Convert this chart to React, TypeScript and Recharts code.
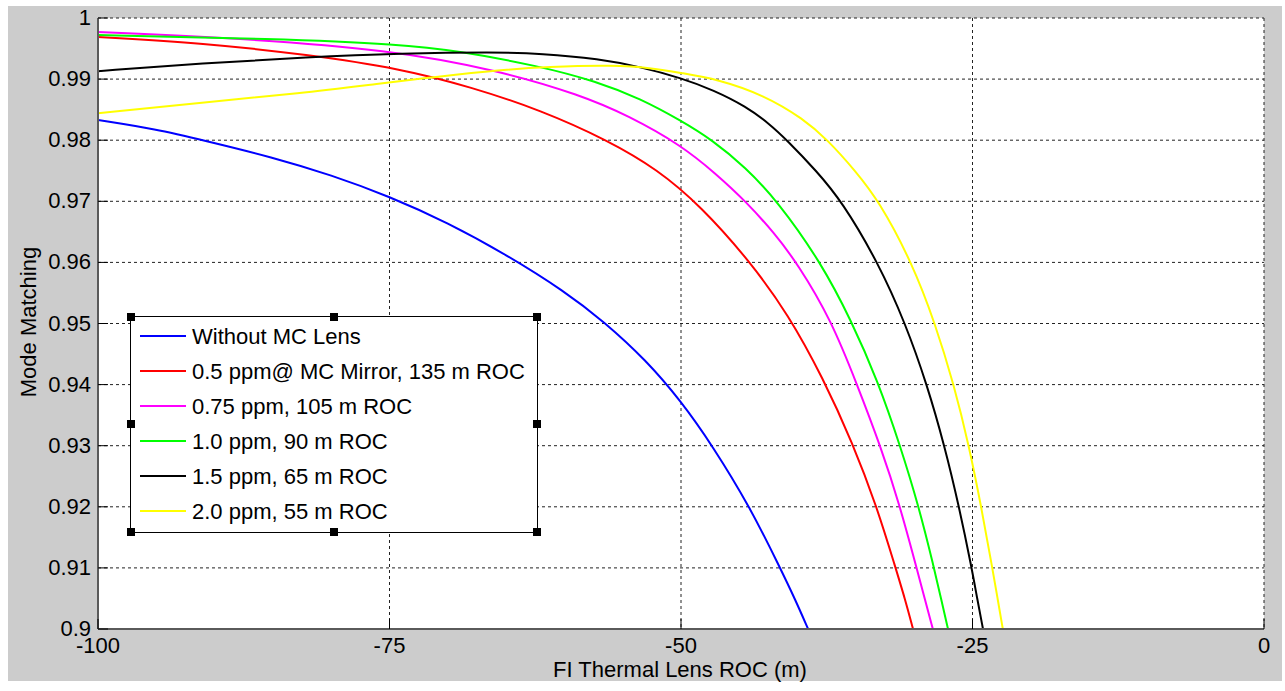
import { LineChart, Line, XAxis, YAxis, CartesianGrid } from 'recharts'

const xTicks = [-100, -75, -50, -25, 0]
const yTicks = [0.9, 0.91, 0.92, 0.93, 0.94, 0.95, 0.96, 0.97, 0.98, 0.99, 1]

const seriesNames = [
  'Without MC Lens',
  '0.5 ppm@ MC Mirror, 135 m ROC',
  '0.75 ppm, 105 m ROC',
  '1.0 ppm, 90 m ROC',
  '1.5 ppm, 65 m ROC',
  '2.0 ppm, 55 m ROC',
]
const seriesColors = ['#0000ff', '#ff0000', '#ff00ff', '#00ff00', '#000000', '#ffff00']

// [ROC (m), mode matching]
const withoutLens = [
  [-100, 0.9833], [-95, 0.9818], [-91, 0.98], [-85, 0.9772], [-80, 0.9743], [-75, 0.9708],
  [-70, 0.9665], [-65, 0.9613], [-60, 0.9553], [-56.6, 0.9503], [-53, 0.944], [-50, 0.9373],
  [-47.3, 0.93], [-44.1, 0.92], [-41.5, 0.91], [-40.2, 0.9048], [-39.1, 0.9],
]
const ppm05 = [
  [-100, 0.9969], [-91, 0.9959], [-82, 0.994], [-74, 0.9917], [-68, 0.9887], [-62, 0.9849],
  [-56.3, 0.98], [-52, 0.9752], [-48.3, 0.9692], [-44.1, 0.9602], [-40.8, 0.9515], [-37.8, 0.941],
  [-35.3, 0.9305], [-33.2, 0.92], [-31.6, 0.91], [-30.8, 0.905], [-30.1, 0.9],
]
const ppm075 = [
  [-100, 0.9977], [-88, 0.9967], [-75, 0.9948], [-65.8, 0.9915], [-58.6, 0.9874], [-54.5, 0.984],
  [-50, 0.9792], [-47, 0.9745], [-44.4, 0.9699], [-42, 0.9648], [-40, 0.9598], [-37.1, 0.9505],
  [-34.9, 0.94], [-32.9, 0.93], [-31.2, 0.92], [-29.8, 0.91], [-29.1, 0.905], [-28.4, 0.9],
]
const ppm10 = [
  [-100, 0.9972], [-85, 0.9966], [-74, 0.9957], [-69.1, 0.9946], [-62.3, 0.9922], [-57.2, 0.9896],
  [-53.5, 0.9868], [-50, 0.9832], [-47.3, 0.98], [-44.5, 0.9756], [-41.7, 0.97], [-38, 0.96],
  [-35.4, 0.9505], [-33.1, 0.9405], [-31.2, 0.93], [-29.6, 0.92], [-28.3, 0.91], [-27.7, 0.905],
  [-27.1, 0.9],
]
const ppm15 = [
  [-100, 0.9913], [-91, 0.9926], [-82, 0.9936], [-74, 0.9942], [-66, 0.9944], [-62, 0.9942],
  [-57, 0.9933], [-53.5, 0.992], [-50, 0.9902], [-47.2, 0.9882], [-44.4, 0.9855], [-42.5, 0.9828],
  [-40.9, 0.98], [-38.4, 0.975], [-36.2, 0.97], [-33.1, 0.96], [-30.75, 0.95], [-28.9, 0.94],
  [-27.4, 0.93], [-26.15, 0.92], [-25.07, 0.91], [-24.6, 0.905], [-24.1, 0.9],
]
const ppm20 = [
  [-100, 0.9844], [-91.3, 0.9861], [-82.6, 0.9877], [-75.8, 0.9893], [-70.9, 0.9904], [-65.5, 0.9915],
  [-61.5, 0.992], [-55.8, 0.9923], [-52.4, 0.9918], [-50, 0.991], [-46.9, 0.99], [-42.9, 0.9874],
  [-39.5, 0.9835], [-37.4, 0.98], [-35.1, 0.9751], [-33, 0.97], [-30.2, 0.96], [-28.2, 0.95],
  [-26.6, 0.94], [-25.3, 0.93], [-24.25, 0.92], [-23.3, 0.91], [-22.85, 0.905], [-22.4, 0.9],
]

const seriesPoints = [withoutLens, ppm05, ppm075, ppm10, ppm15, ppm20]

const series = seriesNames.map((name, i) => ({
  name,
  color: seriesColors[i],
  data: seriesPoints[i].map(([x, y]) => ({ x, y })),
}))

const FONT = 'Arial, "Liberation Sans", sans-serif'

const XTick = ({ x, y, payload }: any) => (
  <g>
    <line x1={x} x2={x} y1={y} y2={y - 10} stroke="#000" />
    <text x={x} y={y + 24} textAnchor="middle" fontSize={22} fontFamily={FONT} fill="#000">
      {payload.value}
    </text>
  </g>
)

const YTick = ({ x, y, payload }: any) => (
  <g>
    <line x1={x} x2={x + 10} y1={y} y2={y} stroke="#000" />
    <text x={x - 7} y={y + 7} textAnchor="end" fontSize={22} fontFamily={FONT} fill="#000">
      {String(+Number(payload.value).toFixed(2))}
    </text>
  </g>
)

const XTitle = () => (
  <text x={680} y={677} textAnchor="middle" fontSize={22} fontFamily={FONT} fill="#000">
    FI Thermal Lens ROC (m)
  </text>
)

const YTitle = () => (
  <text
    x={28}
    y={322}
    transform="rotate(-90 28 322)"
    textAnchor="middle"
    dominantBaseline="central"
    fontSize={22}
    fontFamily={FONT}
    fill="#000"
  >
    Mode Matching
  </text>
)

const handles = [
  [0, 0], [0.5, 0], [1, 0], [0, 0.5], [1, 0.5], [0, 1], [0.5, 1], [1, 1],
]

const LegendBox = () => (
  <div
    style={{
      position: 'absolute',
      left: 130,
      top: 316,
      width: 408,
      height: 217,
      border: '1px solid #000',
      boxSizing: 'border-box',
      background: '#fff',
      fontFamily: FONT,
      fontSize: 22,
    }}
  >
    {series.map((s, i) => (
      <div key={s.name} style={{ position: 'absolute', left: 0, top: 2 + i * 35, height: 35, width: '100%' }}>
        <div style={{ position: 'absolute', left: 9, top: 16, width: 46, height: 2, background: s.color }} />
        <div style={{ position: 'absolute', left: 61, top: 0, lineHeight: '35px', whiteSpace: 'nowrap', color: '#000' }}>
          {s.name}
        </div>
      </div>
    ))}
    {handles.map(([hx, hy], i) => (
      <div
        key={i}
        style={{
          position: 'absolute',
          left: hx * 406 - 4.5,
          top: hy * 215 - 4.5,
          width: 8,
          height: 8,
          background: '#000',
        }}
      />
    ))}
  </div>
)

export default function App() {
  return (
    <div style={{ position: 'absolute', left: 0, top: 0, width: 1285, height: 691, background: '#fff' }}>
      <div style={{ position: 'absolute', left: 8, top: 6, width: 1274, height: 675, background: '#cccccc' }} />
      <div style={{ position: 'absolute', left: 0, top: 0 }}>
        <LineChart width={1285} height={691} margin={{ top: 18, right: 21, bottom: 0, left: 0 }}>
          <CartesianGrid stroke="#222" strokeDasharray="3 3" fill="#fff" fillOpacity={1} />
          <XAxis
            dataKey="x"
            type="number"
            domain={[-100, 0]}
            ticks={xTicks}
            interval={0}
            height={62}
            tickSize={0}
            tickMargin={0}
            tickLine={false}
            axisLine={{ stroke: '#5a5a5a', strokeWidth: 2 }}
            tick={<XTick />}
            label={<XTitle />}
            allowDataOverflow
          />
          <YAxis
            type="number"
            domain={[0.9, 1]}
            ticks={yTicks}
            interval={0}
            width={98}
            tickSize={0}
            tickMargin={0}
            tickLine={false}
            axisLine={{ stroke: '#5a5a5a', strokeWidth: 2 }}
            tick={<YTick />}
            label={<YTitle />}
            allowDataOverflow
          />
          {series.map((s) => (
            <Line
              key={s.name}
              data={s.data}
              dataKey="y"
              name={s.name}
              type="basis"
              stroke={s.color}
              strokeWidth={2}
              dot={false}
              activeDot={false}
              isAnimationActive={false}
            />
          ))}
        </LineChart>
      </div>
      <LegendBox />
    </div>
  )
}
